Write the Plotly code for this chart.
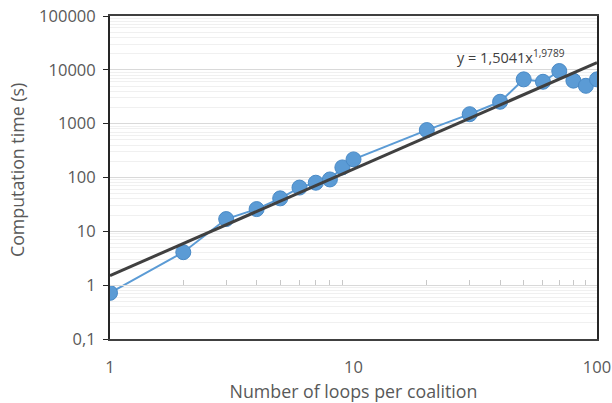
import numpy as np
import plotly.graph_objects as go

# Data
loops = [1, 2, 3, 4, 5, 6, 7, 8, 9, 10, 20, 30, 40, 50, 60, 70, 80, 90, 100]
times = [0.72, 4.1, 16.9, 25.9, 41, 65, 80, 92, 154, 217,
         760, 1500, 2550, 6650, 6000, 9500, 6300, 5050, 6650]

# Power-law trend line shown in the chart: y = a * x^b
trend_a = 1.5041
trend_b = 1.9789
trend_x = [1, 100]

y_tickvals = [0.1, 1, 10, 100, 1000, 10000, 100000]
y_ticktext = ["0,1", "1", "10", "100", "1000", "10000", "100000"]
x_tickvals = [1, 10, 100]
x_ticktext = ["1", "10", "100"]

x_minor = [m * d for d in (1, 10) for m in range(2, 10)]
y_minor = [m * 10.0 ** e for e in range(-1, 5) for m in range(2, 10)]

FONT = "'Open Sans', sans-serif"
TXT = "#595959"
BLUE = "#5B9BD5"

trend_y = [trend_a * xv ** trend_b for xv in trend_x]

fig = go.Figure()
fig.add_trace(go.Scatter(
    x=loops, y=times, mode="lines+markers",
    line=dict(color=BLUE, width=2),
    marker=dict(size=15, color=BLUE, line=dict(color="#4A8AC6", width=1)),
    showlegend=False, hoverinfo="skip"))
fig.add_trace(go.Scatter(
    x=trend_x, y=trend_y, mode="lines",
    line=dict(color="#404040", width=3),
    showlegend=False, hoverinfo="skip"))
# invisible trace to carry the crossing axis (x2) at y = 1
fig.add_trace(go.Scatter(
    x=trend_x, y=[1, 1], xaxis="x2", mode="lines",
    line=dict(width=0), opacity=0, showlegend=False, hoverinfo="skip"))

fig.update_layout(
    width=612, height=403,
    margin=dict(l=110, r=15, t=16, b=64),
    paper_bgcolor="white", plot_bgcolor="white",
    font=dict(family=FONT, color=TXT, size=16),
    xaxis=dict(
        type="log", range=[0, 2], automargin=False,
        tickvals=x_tickvals, ticktext=x_ticktext,
        showgrid=False, zeroline=False,
        showline=True, linecolor="#404040", linewidth=2, mirror=True,
        ticks="", ticklabelstandoff=12,
        tickfont=dict(size=16.5, color=TXT),
        title=dict(text="Number of loops per coalition",
                   font=dict(size=17.8, color=TXT), standoff=9),
    ),
    xaxis2=dict(
        type="log", range=[0, 2], overlaying="x", anchor="free",
        position=1 / 6, side="bottom", automargin=False,
        showline=True, linecolor="#D9D9D9", linewidth=1,
        tickvals=x_minor, ticks="inside", ticklen=5, tickcolor="#C8C8C8",
        showticklabels=False, showgrid=False, zeroline=False,
    ),
    yaxis=dict(
        type="log", range=[-1, 5], automargin=False,
        tickvals=y_tickvals, ticktext=y_ticktext,
        showgrid=True, gridcolor="#D9D9D9", gridwidth=1,
        minor=dict(tickvals=y_minor, showgrid=True, gridcolor="#F0F0F0",
                   gridwidth=1, ticks=""),
        zeroline=False,
        showline=True, linecolor="#262626", linewidth=2, mirror=True,
        ticks="outside", ticklen=5, tickcolor="#262626",
        ticklabelstandoff=4,
        tickfont=dict(size=16.5, color=TXT),
    ),
    annotations=[
        dict(
            x=np.log10(26), y=4.24, xref="x", yref="y",
            xanchor="left", yanchor="middle", showarrow=False,
            text="y = 1,5041x<sup>1,9789</sup>",
            font=dict(size=14.5, color="#404040")),
        dict(
            x=-0.191, y=0.523, xref="paper", yref="paper",
            xanchor="center", yanchor="middle", showarrow=False,
            textangle=-90, text="Computation time (s)",
            font=dict(size=17.8, color=TXT)),
    ],
)

fig.write_html(
    "out.html",
    config={"displayModeBar": False},
    post_script="document.body.style.margin='0px';"
                "document.body.style.overflow='hidden';",
)
